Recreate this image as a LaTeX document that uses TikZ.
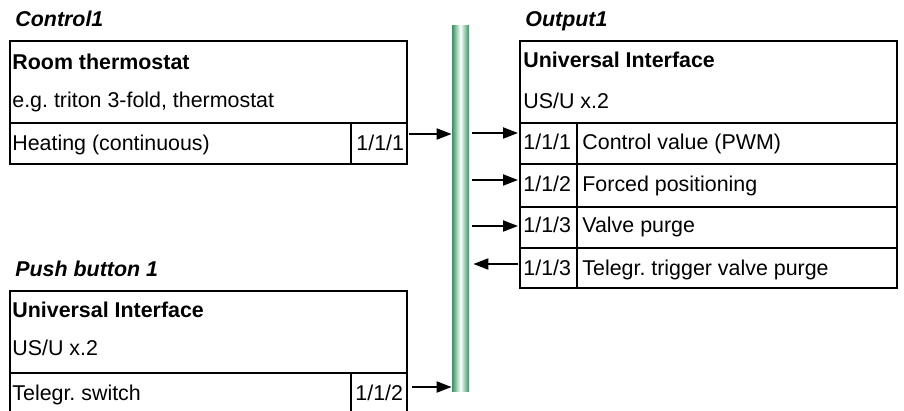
\documentclass[tikz,border=0pt]{standalone}
\usepackage{fontspec}
\setmainfont{Liberation Sans}
\usetikzlibrary{arrows.meta}
\definecolor{busgreen}{RGB}{50,150,95}
\frenchspacing

\begin{document}
\begin{tikzpicture}[x=0.5pt,y=-0.5pt,
		font=\fontsize{10.7}{12}\selectfont,
		box/.style={draw,line width=1pt},
		txt/.style={anchor=base west,inner sep=0pt},
		title/.style={txt,font=\fontsize{10.7}{12}\selectfont\bfseries\itshape},
		head/.style={txt,font=\fontsize{10.7}{12}\selectfont\bfseries},
		sig/.style={line width=1pt,-{Triangle[length=7.5pt,width=5.5pt]}}]
		\useasboundingbox (0,0) rectangle (904,411);

		% bus line
		\node (bus) [rectangle,inner sep=0pt,minimum width=8.5pt,minimum height=182.5pt,
			left color=busgreen,right color=busgreen,middle color=white] at (460.5,208.5) {};

		% Control1
		\node (T1) [title] at (15,27) {Control1};
		\draw[box] (10,41) rectangle (407,164);
		\draw[box] (10,123) -- (407,123);
		\draw[box] (351,123) -- (351,164);
		\node (C1a) [head] at (12,70) {Room thermostat};
		\node (C1b) [txt] at (12,108) {e.g. triton 3-fold, thermostat};
		\node (C1c) [txt] at (12,151) {Heating (continuous)};
		\node (C1d) [txt] at (356,151) {1/1/1};

		% Push button 1
		\node (T2) [title] at (15,277) {Push button 1};
		\draw[box] (10,412) -- (10,291) -- (407,291) -- (407,412);
		\draw[box] (10,373) -- (407,373);
		\draw[box] (351,373) -- (351,412);
		\node (P1a) [head] at (12,317) {Universal Interface};
		\node (P1b) [txt] at (12,355) {US/U x.2};
		\node (P1c) [txt] at (12,400) {Telegr. switch};
		\node (P1d) [txt] at (355,400) {1/1/2};

		% Output1
		\node (T3) [title] at (525,27) {Output1};
		\draw[box] (520,41) rectangle (897,288);
		\draw[box] (520,123) -- (897,123);
		\draw[box] (520,164) -- (897,164);
		\draw[box] (520,207) -- (897,207);
		\draw[box] (520,248) -- (897,248);
		\draw[box] (577,123) -- (577,288);
		\node (O1a) [head] at (523,68) {Universal Interface};
		\node (O1b) [txt] at (523,109) {US/U x.2};
		\node (O1c) [txt] at (523,150) {1/1/1};
		\node (O1d) [txt] at (582,150) {Control value (PWM)};
		\node (O1e) [txt] at (523,192) {1/1/2};
		\node (O1f) [txt] at (582,192) {Forced positioning};
		\node (O1g) [txt] at (523,233) {1/1/3};
		\node (O1h) [txt] at (582,233) {Valve purge};
		\node (O1i) [txt] at (523,275) {1/1/3};
		\node (O1j) [txt] at (582,275) {Telegr. trigger valve purge};

		% telegrams
		\coordinate (c1out) at (409,134);
		\coordinate (p1out) at (412,387);
		\coordinate (o1in) at (518,133);
		\coordinate (o2in) at (518,180);
		\coordinate (o3in) at (518,226);
		\coordinate (o4out) at (518,264);
		\draw[sig] (c1out) -- (c1out -| bus.west);
		\draw[sig] (p1out) -- (p1out -| bus.west);
		\draw[sig,shorten <=1.5pt] (bus.east |- o1in) -- (o1in);
		\draw[sig,shorten <=1.5pt] (bus.east |- o2in) -- (o2in);
		\draw[sig,shorten <=1.5pt] (bus.east |- o3in) -- (o3in);
		\draw[sig,shorten >=2pt] (o4out) -- (bus.east |- o4out);
\end{tikzpicture}
\end{document}
